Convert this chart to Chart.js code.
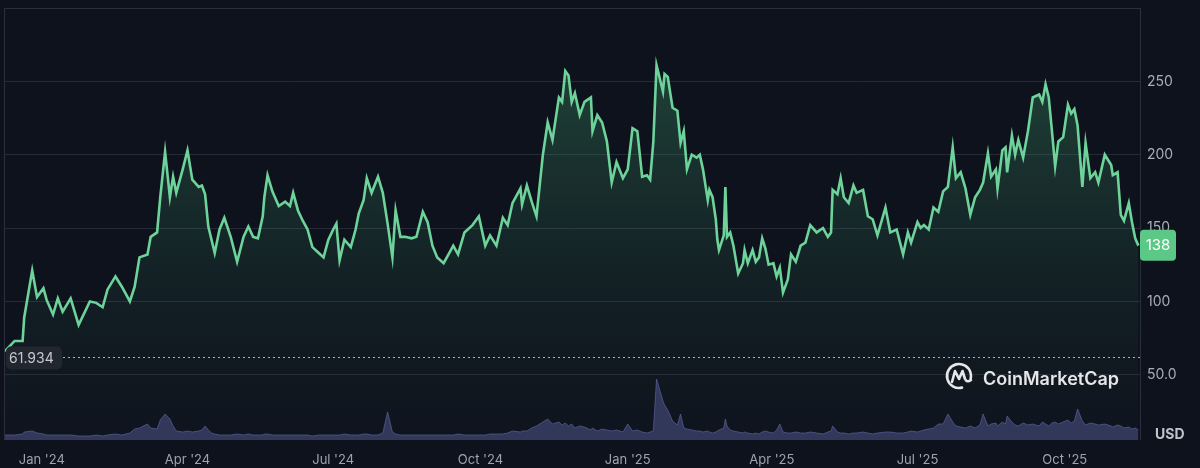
<!DOCTYPE html>
<html>
<head>
<meta charset="utf-8">
<title>Price chart</title>
<script src="https://cdn.jsdelivr.net/npm/chart.js@4.4.1/dist/chart.umd.min.js"></script>
<style>
  html, body { margin: 0; padding: 0; background: #0e121c; }
  #wrap { width: 1200px; height: 468px; position: relative; }
</style>
</head>
<body>
<div id="wrap"><canvas id="priceChart"></canvas></div>
<script>
// days counted from 1 Jan 2024
const days = [
  -23, -17, -12, -11, -6, -3, 1, 3, 7, 10,
  13, 18, 23, 30, 34, 38, 41, 46, 50, 55,
  58, 61, 66, 68, 72, 74, 77, 80, 82, 84,
  88, 91, 94, 98, 100, 102, 104, 106, 108, 111,
  114, 118, 122, 126, 129, 132, 135, 138, 139, 141,
  144, 148, 152, 155, 157, 160, 163, 166, 169, 173,
  176, 179, 182, 184, 186, 189, 193, 196, 198, 201,
  203, 206, 210, 213, 216, 219, 221, 224, 227, 231,
  234, 238, 241, 244, 247, 251, 255, 257, 260, 264,
  269, 273, 277, 280, 284, 288, 291, 294, 299, 300,
  303, 306, 309, 313, 316, 319, 323, 325, 327, 329,
  331, 333, 336, 339, 343, 344, 347, 350, 353, 356,
  359, 363, 366, 369, 372, 375, 378, 380, 382, 384,
  388, 389, 391, 394, 397, 399, 401, 403, 406, 409,
  411, 413, 416, 417, 419, 421, 422, 423, 426, 427,
  428, 430, 432, 435, 438, 439, 441, 444, 446, 448,
  450, 452, 454, 457, 459, 461, 463, 466, 468, 471,
  474, 477, 480, 484, 488, 491, 493, 494, 497, 499,
  501, 504, 507, 509, 513, 516, 519, 522, 527, 530,
  534, 538, 541, 543, 547, 549, 551, 554, 557, 560,
  563, 566, 569, 571, 574, 577, 580, 583, 586, 588,
  591, 593, 596, 597, 600, 602, 603, 606, 608, 610,
  613, 616, 619, 623, 625, 627, 629, 631, 633, 635,
  638, 641, 643, 645, 647, 650, 652, 655, 658, 660,
  664, 668, 669, 672, 674, 676, 679, 681, 683, 685
];

// price in USD
const prices = [
  66, 73, 73, 89, 121, 103, 109, 101, 91, 102,
  93, 102, 84, 100, 99, 96, 108, 117, 110, 100,
  110, 130, 132, 144, 147, 171, 202, 171, 185, 174,
  190, 203, 183, 178, 179, 173, 151, 142, 133, 149,
  157, 144, 127, 144, 151, 144, 143, 158, 171, 186,
  175, 165, 168, 165, 174, 162, 155, 149, 137, 133,
  130, 142, 149, 153, 128, 142, 137, 149, 160, 169,
  184, 174, 185, 174, 153, 130, 162, 144, 144, 143,
  144, 161, 154, 138, 130, 126, 134, 138, 132, 147,
  152, 158, 138, 145, 138, 157, 152, 167, 177, 166,
  179, 168, 158, 200, 222, 210, 239, 236, 257, 254,
  236, 242, 227, 236, 239, 216, 227, 222, 209, 181,
  195, 184, 190, 218, 216, 185, 186, 183, 209, 261,
  243, 255, 253, 232, 230, 208, 216, 190, 200, 198,
  200, 190, 169, 176, 171, 156, 142, 135, 145, 178,
  144, 147, 138, 119, 126, 135, 126, 135, 127, 130,
  143, 136, 125, 126, 117, 123, 106, 115, 132, 127,
  138, 140, 152, 147, 150, 144, 147, 176, 173, 184,
  171, 167, 179, 174, 176, 158, 156, 145, 164, 147,
  149, 132, 147, 140, 154, 150, 152, 149, 164, 161,
  175, 178, 205, 184, 188, 177, 159, 171, 176, 181,
  201, 185, 190, 177, 203, 205, 188, 213, 200, 210,
  198, 216, 239, 241, 236, 248, 239, 216, 192, 209,
  212, 234, 228, 231, 220, 178, 208, 184, 188, 181,
  200, 193, 186, 188, 159, 155, 167, 154, 143, 138
];

// traded volume (relative units)
const volumes = [
  5, 5, 6, 8, 9, 7, 6, 5, 5, 5,
  5, 5, 4, 4, 5, 4, 5, 6, 5, 7,
  11, 12, 16, 12, 11, 20, 26, 21, 14, 9,
  8, 9, 8, 9, 10, 14, 10, 7, 6, 5,
  5, 5, 6, 5, 6, 5, 5, 5, 6, 6,
  5, 5, 5, 5, 5, 5, 5, 5, 4, 5,
  5, 5, 5, 5, 5, 6, 5, 5, 5, 6,
  6, 5, 5, 7, 28, 8, 6, 5, 5, 5,
  5, 5, 5, 5, 5, 5, 5, 5, 6, 5,
  5, 5, 5, 6, 6, 6, 7, 9, 8, 9,
  9, 12, 14, 18, 21, 16, 18, 15, 17, 14,
  16, 12, 14, 13, 10, 12, 9, 11, 10, 9,
  10, 8, 16, 9, 10, 8, 7, 8, 9, 61,
  39, 35, 30, 19, 15, 26, 12, 11, 10, 9,
  9, 8, 9, 8, 7, 8, 9, 10, 12, 21,
  14, 10, 9, 8, 7, 8, 7, 6, 7, 6,
  8, 9, 8, 7, 10, 16, 8, 7, 7, 8,
  7, 7, 8, 7, 6, 8, 9, 14, 8, 7,
  7, 6, 7, 7, 8, 7, 6, 7, 8, 8,
  7, 7, 8, 9, 8, 9, 10, 11, 12, 16,
  16, 26, 18, 14, 13, 12, 14, 12, 15, 26,
  14, 16, 17, 14, 18, 16, 24, 18, 15, 14,
  17, 15, 16, 14, 18, 16, 14, 17, 18, 16,
  18, 20, 17, 19, 31, 19, 15, 17, 16, 15,
  16, 14, 13, 15, 14, 12, 13, 11, 12, 10
];

const tickDays = [0, 91, 182, 274, 366, 456, 547, 639];
const tickLabels = ["Jan '24", "Apr '24", "Jul '24", "Oct '24", "Jan '25", "Apr '25", "Jul '25", "Oct '25"];
const priceTicks = [50, 100, 150, 200, 250];
const referencePrice = 61.934;

const fontFamily = 'Inter, "Noto Sans", sans-serif';

function roundRect(c, x, y, w, h, r) {
  c.beginPath();
  c.moveTo(x + r, y);
  c.arcTo(x + w, y, x + w, y + h, r);
  c.arcTo(x + w, y + h, x, y + h, r);
  c.arcTo(x, y + h, x, y, r);
  c.arcTo(x, y, x + w, y, r);
  c.closePath();
}

// frame, reference line, last price badge, logo
const overlay = {
  id: 'overlay',
  beforeDraw(chart) {
    const c = chart.ctx, a = chart.chartArea;
    c.save();
    c.fillStyle = '#0e121c';
    c.fillRect(0, 0, chart.width, chart.height);
    c.strokeStyle = '#2a2f3b';
    c.lineWidth = 1;
    c.beginPath();
    c.moveTo(a.left - 1, a.top + 0.5);
    c.lineTo(a.right + 0.5, a.top + 0.5);
    c.moveTo(a.left - 0.5, a.top);
    c.lineTo(a.left - 0.5, a.bottom);
    c.moveTo(a.right + 0.5, a.top);
    c.lineTo(a.right + 0.5, a.bottom);
    c.stroke();
    c.restore();
  },
  afterDraw(chart) {
    const c = chart.ctx, a = chart.chartArea, y = chart.scales.y;
    c.save();

    // dotted reference line
    const ry = Math.round(y.getPixelForValue(referencePrice)) + 0.5;
    c.strokeStyle = 'rgba(230,232,236,0.75)';
    c.setLineDash([2, 3]);
    c.beginPath();
    c.moveTo(a.left + 58, ry);
    c.lineTo(a.right, ry);
    c.stroke();
    c.setLineDash([]);
    c.fillStyle = '#22262f';
    roundRect(c, a.left + 1, ry - 11, 56, 23, 5);
    c.fill();
    c.fillStyle = '#c4c7ce';
    c.font = '14px ' + fontFamily;
    c.textAlign = 'left';
    c.textBaseline = 'middle';
    c.fillText(referencePrice.toFixed(3), a.left + 4, ry + 1);

    // last price badge
    const last = prices[prices.length - 1];
    const by = y.getPixelForValue(last);
    c.fillStyle = '#5cc886';
    roundRect(c, a.right, by - 16, 36, 31, 4);
    c.fill();
    c.fillStyle = '#ffffff';
    c.font = '15px ' + fontFamily;
    c.textAlign = 'center';
    c.fillText(String(last), a.right + 18, by);

    // currency
    c.fillStyle = '#c1c4cb';
    c.font = 'bold 14px ' + fontFamily;
    c.textAlign = 'left';
    c.fillText('USD', a.right + 15, a.bottom - 5);

    // logo
    const cx = 959, cy = 376, r = 12;
    c.strokeStyle = '#e6e7ea';
    c.lineWidth = 2.6;
    c.lineCap = 'round';
    c.lineJoin = 'round';
    c.beginPath();
    c.arc(cx, cy, r, 0.42 * Math.PI, 2.08 * Math.PI);
    c.stroke();
    c.beginPath();
    c.moveTo(cx - 7, cy + 6);
    c.lineTo(cx - 4, cy - 5);
    c.lineTo(cx, cy + 3);
    c.lineTo(cx + 3.5, cy - 5);
    c.lineTo(cx + 6, cy + 3);
    c.quadraticCurveTo(cx + 8, cy + 7, cx + 12, cy + 4);
    c.stroke();
    c.fillStyle = '#e6e7ea';
    c.font = '600 18px ' + fontFamily;
    c.textAlign = 'left';
    c.textBaseline = 'alphabetic';
    c.fillText('CoinMarketCap', 983, 385);

    c.restore();
  }
};

const ctx = document.getElementById('priceChart').getContext('2d');

const priceData = days.map((d, i) => ({ x: d, y: prices[i] }));
const volumeData = days.map((d, i) => ({ x: d, y: volumes[i] }));

new Chart(ctx, {
  type: 'line',
  data: {
    datasets: [
      {
        label: 'Volume',
        data: volumeData,
        yAxisID: 'yv',
        order: 0,
        borderColor: 'rgba(96,100,160,0.65)',
        borderWidth: 1,
        backgroundColor: 'rgba(80,86,140,0.55)',
        fill: 'origin',
        pointRadius: 0,
        tension: 0
      },
      {
        label: 'Price',
        data: priceData,
        yAxisID: 'y',
        order: 1,
        borderColor: '#6dd39a',
        borderWidth: 2.6,
        pointRadius: 0,
        tension: 0,
        fill: 'start',
        backgroundColor: (c) => {
          const area = c.chart.chartArea;
          if (!area) return 'rgba(0,0,0,0)';
          const g = c.chart.ctx.createLinearGradient(0, area.top + 60, 0, area.bottom);
          g.addColorStop(0, 'rgba(80,200,130,0.26)');
          g.addColorStop(0.6, 'rgba(60,150,110,0.10)');
          g.addColorStop(1, 'rgba(40,90,80,0.03)');
          return g;
        }
      }
    ]
  },
  options: {
    responsive: true,
    maintainAspectRatio: false,
    animation: false,
    layout: { padding: { left: 5, top: 8, right: 0, bottom: 0 } },
    plugins: {
      legend: { display: false },
      tooltip: { enabled: false }
    },
    scales: {
      x: {
        type: 'linear',
        min: -23,
        max: 686,
        grid: { display: false, drawTicks: false },
        border: { display: false },
        afterBuildTicks: (s) => { s.ticks = tickDays.map(v => ({ value: v })); },
        afterFit: (s) => { s.height = 28; },
        ticks: {
          autoSkip: false,
          maxRotation: 0,
          padding: 12,
          color: '#9ea3ad',
          font: { family: fontFamily, size: 13 },
          callback: (v) => tickLabels[tickDays.indexOf(v)]
        }
      },
      y: {
        position: 'right',
        min: 5.5,
        max: 300,
        grid: { color: '#252a36', drawTicks: false },
        border: { display: false },
        afterBuildTicks: (s) => { s.ticks = priceTicks.map(v => ({ value: v })); },
        afterFit: (s) => { s.width = 60; s.paddingTop = 0; s.paddingBottom = 0; },
        ticks: {
          padding: 7,
          color: '#a9adb6',
          font: { family: fontFamily, size: 14 },
          callback: (v) => v === 50 ? '50.0' : String(v)
        }
      },
      yv: {
        display: false,
        min: 0,
        max: 432
      }
    }
  },
  plugins: [overlay]
});
</script>
</body>
</html>
